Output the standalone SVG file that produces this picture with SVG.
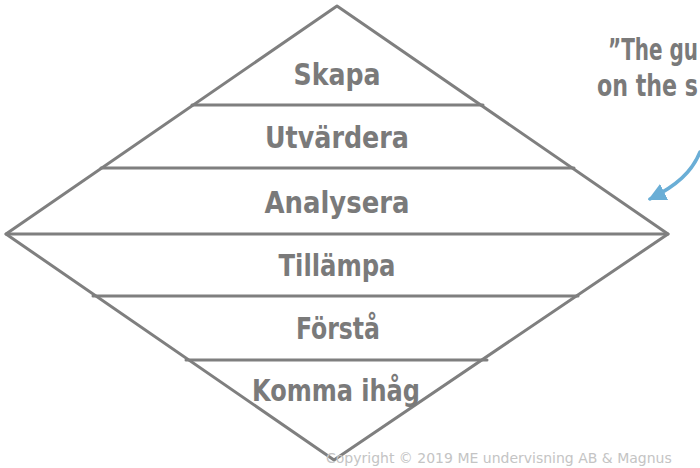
<svg xmlns="http://www.w3.org/2000/svg" width="700" height="468" viewBox="0 0 700 468">
<style>
.ln{stroke:#7f7f7f;stroke-width:3;fill:none;stroke-linecap:round;stroke-linejoin:round}
.lbl{font-family:"DejaVu Sans Condensed","DejaVu Sans",sans-serif;font-weight:bold;font-size:31px;fill:#7a7a7a;text-anchor:middle}
.quote{font-family:"DejaVu Sans Condensed","DejaVu Sans",sans-serif;font-weight:bold;font-size:31px;fill:#7a7a7a}
.copy{font-family:"DejaVu Sans",sans-serif;font-size:14px;fill:#c4c4c4}
</style>
<defs>
<marker id="ah" markerWidth="18" markerHeight="18" refX="14" refY="8" orient="auto" markerUnits="userSpaceOnUse" viewBox="0 0 16 16">
<path d="M0,0 L16,8 L0,16 z" fill="#6aaed6"/>
</marker>
</defs>
<g id="connectors">
<path class="ln" d="M337,6 L668,234 L334,460 L6,234 Z"/>
<path class="ln" d="M6,234 L668,234"/>
<path class="ln" d="M192,105 L483,105"/>
<path class="ln" d="M101,168 L574,168"/>
<path class="ln" d="M93,296 L578,296"/>
<path class="ln" d="M186,360 L487,360"/>
<path d="M700,152 C692,172 676,186 650,199" stroke="#6aaed6" stroke-width="3.5" fill="none" stroke-linecap="round" marker-end="url(#ah)"/>
</g>
<g id="skapa"><text class="lbl" x="337" y="85" textLength="87" lengthAdjust="spacingAndGlyphs">Skapa</text></g>
<g id="utvardera"><text class="lbl" x="337" y="148" textLength="144" lengthAdjust="spacingAndGlyphs">Utvärdera</text></g>
<g id="analysera"><text class="lbl" x="337" y="213" textLength="145" lengthAdjust="spacingAndGlyphs">Analysera</text></g>
<g id="tillampa"><text class="lbl" x="337" y="276" textLength="117" lengthAdjust="spacingAndGlyphs">Tillämpa</text></g>
<g id="forsta"><text class="lbl" x="338" y="339" textLength="84" lengthAdjust="spacingAndGlyphs">Förstå</text></g>
<g id="komma"><text class="lbl" x="336" y="401" textLength="168" lengthAdjust="spacingAndGlyphs">Komma ihåg</text></g>
<g id="quote">
<text class="quote" x="608" y="60" textLength="90" lengthAdjust="spacingAndGlyphs">”The gu</text>
<text class="quote" x="597" y="96" textLength="101" lengthAdjust="spacingAndGlyphs">on the s</text>
</g>
<text class="copy" x="326" y="463">Copyright © 2019 ME undervisning AB &amp; Magnus</text>
</svg>
